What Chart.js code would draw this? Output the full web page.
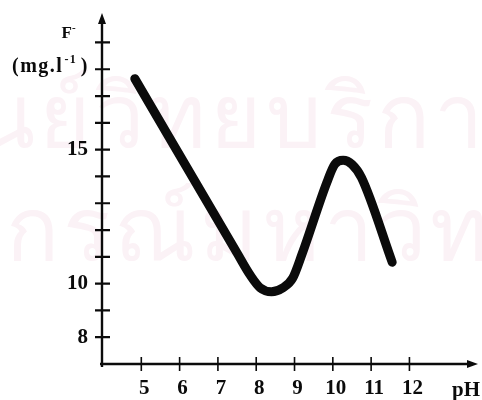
<!DOCTYPE html>
<html><head><meta charset="utf-8">
<script src="https://cdn.jsdelivr.net/npm/chart.js@4"></script>
<style>html,body{margin:0;padding:0;background:#fff;}#wrap{width:482px;height:400px;}</style>
</head><body><div id="wrap"><canvas id="c" width="482" height="400"></canvas></div>
<script>
// ---- data ----
const phValues       = [4.83, 7.50, 7.85, 8.10, 8.40, 8.70, 8.95, 9.20, 9.85, 10.05, 10.27, 10.50, 10.75, 11.55];
const fluorideValues = [17.65, 11.14, 10.30, 9.85, 9.70, 9.85, 10.20, 11.12, 13.80, 14.45, 14.60, 14.45, 13.95, 10.80];
const xTickLabels = [5, 6, 7, 8, 9, 10, 11, 12];
const yTickLabels = [8, 10, 15];
const yTickMarks  = [8, 9, 10, 11, 12, 13, 14, 15, 16, 17, 18, 19];
const xTickMarks  = [5, 6, 7, 8, 9, 10, 11, 12];
const yTitle = { main: 'F', sup: '-' };
const yUnit  = { open: '(mg.l', sup: '-1', close: ')' };
const xTitle = 'pH';
const watermarkLead = 'นย์';
const watermark = ['นย์วิทยบริการ', 'กรณ์มหาวิทยาลัย'];
const X_MIN = 4, X_MAX = 13.79, Y_MIN = 7, Y_MAX = 20.1;

const SERIF = '"Liberation Serif", "DejaVu Serif", serif';
const INK = '#0b0b0b';

const paperPlugin = {
  id: 'paper',
  beforeDraw(chart) {
    const ctx = chart.ctx;
    ctx.save();
    ctx.fillStyle = '#ffffff';
    ctx.fillRect(0, 0, chart.width, chart.height);
    ctx.fillStyle = '#fbf2f6';
    ctx.font = '88px "Noto Sans", sans-serif';
    ctx.textBaseline = 'alphabetic';
    ctx.letterSpacing = '4px';
    const lead = ctx.measureText(watermarkLead).width;
    ctx.fillText(watermark[0], 95 - lead, 147);
    ctx.fillText(watermark[1], 6, 260);
    ctx.letterSpacing = '0px';
    ctx.restore();
  }
};

const axesPlugin = {
  id: 'axesDraw',
  beforeDatasetsDraw(chart) {
    const ctx = chart.ctx, xs = chart.scales.x, ys = chart.scales.y;
    const x0 = xs.getPixelForValue(X_MIN), y0 = ys.getPixelForValue(Y_MIN);
    const xEnd = xs.getPixelForValue(X_MAX), yEnd = ys.getPixelForValue(Y_MAX);
    ctx.save();
    ctx.strokeStyle = INK; ctx.fillStyle = INK; ctx.lineCap = 'butt';
    ctx.lineWidth = 2.4;
    ctx.beginPath();
    ctx.moveTo(x0 - 1, y0 + 3); ctx.lineTo(x0 - 1, yEnd + 8);
    ctx.moveTo(x0 - 3, y0); ctx.lineTo(xEnd - 8, y0);
    ctx.stroke();
    ctx.beginPath();
    ctx.moveTo(x0 - 1, yEnd); ctx.lineTo(x0 - 5, yEnd + 11); ctx.lineTo(x0 + 3, yEnd + 11); ctx.closePath(); ctx.fill();
    ctx.beginPath();
    ctx.moveTo(xEnd, y0); ctx.lineTo(xEnd - 11, y0 - 4); ctx.lineTo(xEnd - 11, y0 + 4); ctx.closePath(); ctx.fill();
    ctx.lineWidth = 2.2;
    ctx.beginPath();
    yTickMarks.forEach(v => { const p = ys.getPixelForValue(v); ctx.moveTo(x0 - 8, p); ctx.lineTo(x0 + 7, p); });
    ctx.stroke();
    ctx.lineWidth = 1.6;
    ctx.beginPath();
    xTickMarks.forEach(v => { const p = xs.getPixelForValue(v); ctx.moveTo(p, y0 - 7); ctx.lineTo(p, y0 + 7); });
    ctx.stroke();
    ctx.restore();
  },
  afterDraw(chart) {
    const ctx = chart.ctx;
    ctx.save();
    ctx.fillStyle = INK;
    ctx.textBaseline = 'alphabetic';
    ctx.font = 'bold 17px ' + SERIF;
    ctx.textAlign = 'right';
    ctx.fillText(yTitle.main, 72, 38);
    ctx.font = 'bold 11px ' + SERIF;
    ctx.textAlign = 'left';
    ctx.fillText(yTitle.sup, 72, 31);
    ctx.letterSpacing = '1.5px';
    ctx.font = 'bold 20px ' + SERIF;
    ctx.textAlign = 'left';
    ctx.fillText(yUnit.open, 12, 72);
    const openW = ctx.measureText(yUnit.open).width;
    ctx.textAlign = 'right';
    ctx.fillText(yUnit.close, 89, 72);
    ctx.font = 'bold 12px ' + SERIF;
    ctx.textAlign = 'left';
    ctx.fillText(yUnit.sup, 12 + openW + 1, 63);
    ctx.letterSpacing = '0px';
    ctx.font = 'bold 21px ' + SERIF;
    ctx.fillText(xTitle, 452, 396);
    ctx.restore();
  }
};

function noPad(s) { s.paddingTop = 0; s.paddingBottom = 0; s.paddingLeft = 0; s.paddingRight = 0; }

new Chart(document.getElementById('c'), {
  type: 'line',
  data: {
    datasets: [{
      data: phValues.map((v, i) => ({ x: v, y: fluorideValues[i] })),
      borderColor: INK,
      borderWidth: 9,
      borderCapStyle: 'round',
      borderJoinStyle: 'round',
      cubicInterpolationMode: 'monotone',
      pointRadius: 0,
      fill: false
    }]
  },
  options: {
    responsive: false,
    animation: false,
    devicePixelRatio: 1,
    layout: { autoPadding: false, padding: { top: 13, right: 4, left: 0, bottom: 0 } },
    plugins: { legend: { display: false }, tooltip: { enabled: false } },
    scales: {
      x: {
        type: 'linear', min: X_MIN, max: X_MAX,
        afterFit(s) { s.height = 36; noPad(s); },
        grid: { display: false, drawTicks: false },
        border: { display: false },
        ticks: {
          stepSize: 1, autoSkip: false, maxRotation: 0, padding: 12, labelOffset: 3,
          color: INK, font: { family: SERIF, weight: 'bold', size: 21 },
          callback: v => xTickLabels.includes(v) ? String(v) : ''
        }
      },
      y: {
        type: 'linear', min: Y_MIN, max: Y_MAX,
        afterFit(s) { s.width = 103; noPad(s); },
        grid: { display: false, drawTicks: false },
        border: { display: false },
        ticks: {
          stepSize: 1, autoSkip: false, padding: 15,
          color: INK, font: { family: SERIF, weight: 'bold', size: 21 },
          callback: v => yTickLabels.includes(v) ? String(v) : ''
        }
      }
    }
  },
  plugins: [paperPlugin, axesPlugin]
});
</script></body></html>
